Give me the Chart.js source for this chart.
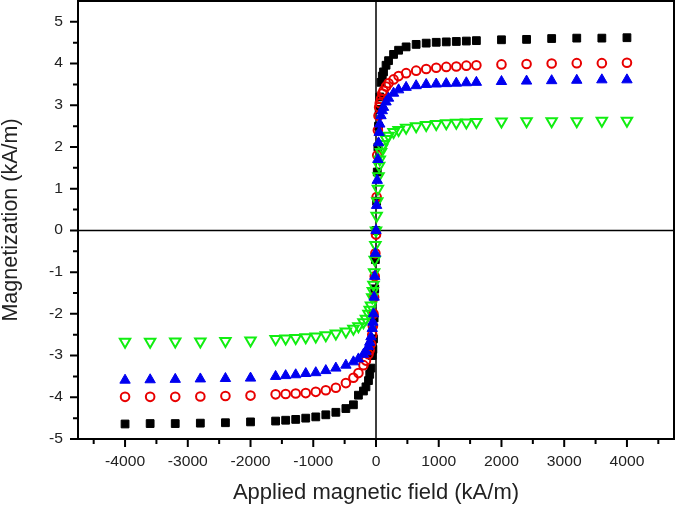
<!DOCTYPE html>
<html>
<head>
<meta charset="utf-8">
<script src="https://cdn.jsdelivr.net/npm/chart.js@4/dist/chart.umd.min.js"></script>
<style>body{margin:0;background:#fff}</style>
</head>
<body>
<canvas id="chart" width="676" height="506"></canvas>
<script>
// applied field (kA/m)
const field = [-4000, -3600, -3200, -2800, -2400, -2000, -1600, -1440, -1280, -1120, -960, -800, -640, -480, -360, -280, -200, -160, -120, -100, -80, -60, -50, -40, -30, -20, -10,
  0,
  10, 20, 30, 40, 50, 60, 80, 100, 120, 160, 200, 280, 360, 480, 640, 800, 960, 1120, 1280, 1440, 1600, 2000, 2400, 2800, 3200, 3600, 4000];

// magnetization (kA/m), four samples
const blackSquares = [-4.64, -4.63, -4.63, -4.62, -4.61, -4.59, -4.57, -4.55, -4.53, -4.50, -4.47, -4.42, -4.36, -4.27, -4.18, -3.95, -3.85, -3.75, -3.60, -3.45, -3.30, -3.00, -2.85, -2.60, -2.10, -1.40, -0.70,
  0.0,
  0.70, 1.40, 2.00, 2.50, 2.90, 3.20, 3.55, 3.70, 3.80, 3.96, 4.07, 4.22, 4.32, 4.40, 4.46, 4.49, 4.51, 4.52, 4.53, 4.54, 4.55, 4.57, 4.58, 4.60, 4.61, 4.61, 4.62];
const redCircles = [-3.99, -3.99, -3.99, -3.98, -3.97, -3.96, -3.93, -3.92, -3.91, -3.90, -3.87, -3.83, -3.77, -3.66, -3.53, -3.42, -3.23, -3.12, -2.97, -2.87, -2.72, -2.50, -2.30, -2.00, -1.60, -1.10, -0.55,
  -0.10,
  0.80, 1.80, 2.40, 2.75, 2.95, 3.05, 3.15, 3.28, 3.35, 3.45, 3.53, 3.62, 3.70, 3.77, 3.83, 3.87, 3.90, 3.92, 3.93, 3.95, 3.96, 3.98, 3.99, 4.00, 4.01, 4.01, 4.02];
const blueTriangles = [-3.59, -3.58, -3.57, -3.56, -3.55, -3.54, -3.50, -3.48, -3.46, -3.43, -3.41, -3.36, -3.30, -3.23, -3.15, -3.08, -2.97, -2.90, -2.78, -2.68, -2.55, -2.35, -2.20, -2.00, -1.60, -1.10, -0.55,
  0.0,
  0.60, 1.20, 1.70, 2.10, 2.35, 2.55, 2.75, 2.87, 2.95, 3.08, 3.17, 3.29, 3.37, 3.43, 3.47, 3.50, 3.51, 3.52, 3.53, 3.54, 3.55, 3.57, 3.58, 3.59, 3.60, 3.61, 3.61];
const greenTriangles = [-2.67, -2.67, -2.66, -2.66, -2.65, -2.64, -2.60, -2.59, -2.58, -2.56, -2.54, -2.51, -2.47, -2.42, -2.36, -2.30, -2.20, -2.12, -2.00, -1.90, -1.80, -1.60, -1.45, -1.30, -1.00, -0.70, -0.35,
  0.0,
  0.35, 0.70, 1.00, 1.30, 1.55, 1.70, 1.88, 1.99, 2.07, 2.19, 2.27, 2.36, 2.41, 2.46, 2.50, 2.53, 2.55, 2.57, 2.58, 2.59, 2.60, 2.61, 2.62, 2.62, 2.62, 2.63, 2.63];

// axis ticks (major ones get labels)
const xTicks = [-4500, -4000, -3500, -3000, -2500, -2000, -1500, -1000, -500, 0, 500, 1000, 1500, 2000, 2500, 3000, 3500, 4000, 4500];
const xLabels = [-4000, -3000, -2000, -1000, 0, 1000, 2000, 3000, 4000];
const yTicks = [-5, -4.5, -4, -3.5, -3, -2.5, -2, -1.5, -1, -0.5, 0, 0.5, 1, 1.5, 2, 2.5, 3, 3.5, 4, 4.5, 5];
const yLabels = [-5, -4, -3, -2, -1, 0, 1, 2, 3, 4, 5];

const points = (ys) => field.map((x, i) => ({ x: x, y: ys[i] }));

const FONT = "'Liberation Sans', Arial, sans-serif";
Chart.defaults.font.family = FONT;
Chart.defaults.color = '#222';

// tick label, slightly widened like the original export
function label(ctx, text, x, y) {
  ctx.save();
  ctx.translate(x, y);
  ctx.scale(1.12, 1);
  ctx.fillText(text, 0, 0);
  ctx.restore();
}

// frame, zero lines, outward tick marks and tick labels
const framePlugin = {
  id: 'frame',
  beforeDatasetsDraw(chart) {
    const { ctx, chartArea: a, scales: { x, y } } = chart;
    const x0 = x.getPixelForValue(0);
    const y0 = y.getPixelForValue(0);
    ctx.save();
    ctx.strokeStyle = '#000';
    ctx.lineWidth = 1.5;
    ctx.beginPath();
    ctx.moveTo(x0, a.top); ctx.lineTo(x0, a.bottom);
    ctx.moveTo(a.left, y0); ctx.lineTo(a.right, y0);
    ctx.stroke();
    ctx.restore();
  },
  afterDraw(chart) {
    const { ctx, chartArea: a, scales: { x, y } } = chart;
    ctx.save();
    ctx.strokeStyle = '#000';
    ctx.lineWidth = 2;
    ctx.strokeRect(a.left, a.top, a.right - a.left, a.bottom - a.top);
    ctx.beginPath();
    xTicks.forEach(v => {
      const px = x.getPixelForValue(v);
      const len = xLabels.includes(v) ? 8 : 5;
      ctx.moveTo(px, a.bottom); ctx.lineTo(px, a.bottom + len);
    });
    yTicks.forEach(v => {
      const py = y.getPixelForValue(v);
      const len = yLabels.includes(v) ? 8 : 5;
      ctx.moveTo(a.left, py); ctx.lineTo(a.left - len, py);
    });
    ctx.stroke();

    ctx.fillStyle = '#222';
    ctx.font = '14px ' + FONT;
    ctx.textBaseline = 'middle';
    ctx.textAlign = 'center';
    xLabels.forEach(v => label(ctx, String(v), x.getPixelForValue(v), a.bottom + 23));
    ctx.textAlign = 'right';
    yLabels.forEach(v => label(ctx, String(v), a.left - 15, y.getPixelForValue(v)));
    ctx.restore();
  }
};

new Chart(document.getElementById('chart'), {
  type: 'scatter',
  data: {
    datasets: [
      {
        label: 'black',
        data: points(blackSquares),
        pointStyle: 'rect',
        pointRadius: 5.5,
        backgroundColor: '#000',
        borderColor: '#000',
        borderWidth: 1,
        order: 3
      },
      {
        label: 'red',
        data: points(redCircles),
        pointStyle: 'circle',
        pointRadius: 4.3,
        backgroundColor: 'rgba(0,0,0,0)',
        borderColor: '#e80000',
        borderWidth: 2,
        order: 2
      },
      {
        label: 'green',
        data: points(greenTriangles),
        pointStyle: 'triangle',
        rotation: 180,
        pointRadius: 6,
        backgroundColor: 'rgba(0,0,0,0)',
        borderColor: '#11ee11',
        borderWidth: 2,
        order: 1
      },
      {
        label: 'blue',
        data: points(blueTriangles),
        pointStyle: 'triangle',
        pointRadius: 6,
        backgroundColor: '#0000f0',
        borderColor: '#0000f0',
        borderWidth: 1,
        order: 0
      }
    ]
  },
  options: {
    responsive: false,
    animation: false,
    layout: { autoPadding: false, padding: { top: 1, right: 2, left: 0, bottom: 0 } },
    plugins: { legend: { display: false }, tooltip: { enabled: false } },
    scales: {
      x: {
        type: 'linear',
        min: -4750,
        max: 4750,
        afterFit: (s) => { s.height = 67; },
        grid: { display: false, drawTicks: false },
        border: { display: false },
        ticks: { display: false },
        title: {
          display: true,
          text: 'Applied magnetic field (kA/m)',
          font: { size: 22, lineHeight: 1.15 },
          padding: { top: 0, bottom: 0 }
        }
      },
      y: {
        type: 'linear',
        min: -5,
        max: 5.5,
        afterFit: (s) => { s.width = 78; },
        grid: { display: false, drawTicks: false },
        border: { display: false },
        ticks: { display: false },
        title: {
          display: true,
          text: 'Magnetization (kA/m)',
          font: { size: 21.5, lineHeight: 1.05 },
          padding: { top: 0, bottom: 0 }
        }
      }
    }
  },
  plugins: [framePlugin]
});
</script>
</body>
</html>
